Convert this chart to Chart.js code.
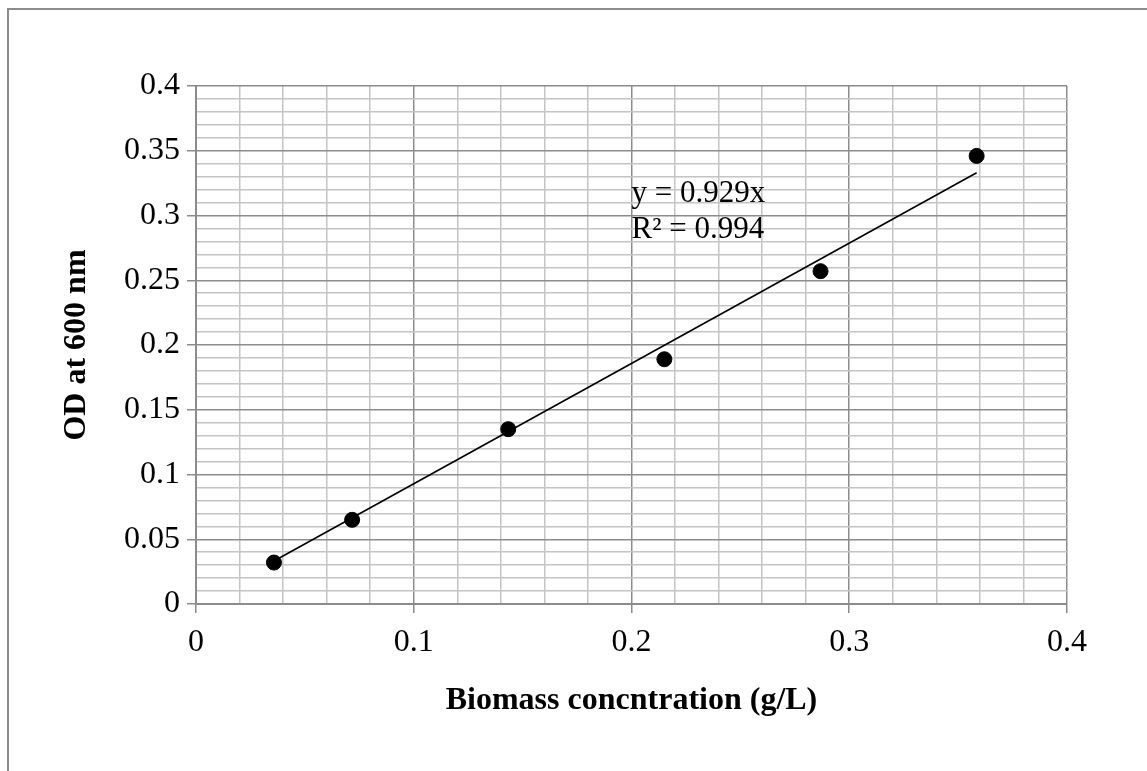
<!DOCTYPE html>
<html>
<head>
<meta charset="utf-8">
<script src="https://cdn.jsdelivr.net/npm/chart.js@4.4.1/dist/chart.umd.min.js"></script>
<style>
  html, body { margin: 0; padding: 0; background: #fff; }
  canvas { display: block; }
</style>
</head>
<body>
<canvas id="odChart" width="1147" height="771"></canvas>
<script>
// biomass (g/L) vs OD600 readings
const biomass = [0.0358, 0.0717, 0.1434, 0.2151, 0.2868, 0.3585];
const odValues = [0.032, 0.065, 0.135, 0.189, 0.257, 0.346];
// trendline through origin, as reported on the chart
const slope = 0.929;
const rSquared = 0.994;
const equationLines = ["y = 0.929x", "R\u00b2 = 0.994"];

const serif = "'Liberation Serif', 'Times New Roman', serif";
const majorGrid = "#8c8c8c";
const minorGrid = "#c4c4c4";

const points = biomass.map((x, i) => ({ x: x, y: odValues[i] }));
const xFirst = biomass[0];
const xLast = biomass[biomass.length - 1];
const trend = [
    { x: xFirst, y: slope * xFirst },
    { x: xLast, y: slope * xLast },
];

const isMajorX = (v) => Math.round(v * 100) % 10 === 0;
const isMajorY = (v) => Math.round(v * 100) % 5 === 0;
const fmt = (v) => String(Number(v.toFixed(2)));

// outer frame like the Excel chart area border
const frame = {
    id: "frame",
    beforeDraw(chart) {
        const c = chart.ctx;
        c.save();
        c.fillStyle = "#fff";
        c.fillRect(0, 0, chart.width, chart.height);
        c.strokeStyle = "#8c8c8c";
        c.lineWidth = 2;
        c.strokeRect(8, 9, chart.width + 20, chart.height + 20);
        c.restore();
    },
};

// trendline label
const equation = {
    id: "equation",
    afterDatasetsDraw(chart) {
        const c = chart.ctx;
        const xs = chart.scales.x, ys = chart.scales.y;
        c.save();
        c.font = "31px " + serif;
        c.fillStyle = "#000";
        c.textBaseline = "alphabetic";
        c.fillText(equationLines[0], xs.getPixelForValue(0.2), ys.getPixelForValue(0.3105));
        c.fillText(equationLines[1], xs.getPixelForValue(0.2), ys.getPixelForValue(0.2826));
        c.restore();
    },
};

const config = {
    type: "scatter",
    data: {
        datasets: [
            {
                label: "OD",
                data: points,
                backgroundColor: "#000",
                borderColor: "#000",
                pointRadius: 7.5,
                pointHoverRadius: 7.5,
            },
            {
                label: "Linear",
                data: trend,
                showLine: true,
                borderColor: "#000",
                borderWidth: 1.6,
                pointRadius: 0,
                fill: false,
            },
        ],
    },
    options: {
        responsive: false,
        animation: false,
        layout: { padding: { left: 0, top: 86, right: 80, bottom: 0 } },
        plugins: {
            legend: { display: false },
            tooltip: { enabled: false },
        },
        scales: {
            x: {
                type: "linear",
                min: 0,
                max: 0.4,
                afterFit(scale) { scale.height = 167; },
                border: { color: majorGrid, width: 2 },
                grid: {
                    color: (ctx) => isMajorX(ctx.tick.value) ? majorGrid : minorGrid,
                    tickColor: (ctx) => isMajorX(ctx.tick.value) ? majorGrid : "rgba(0,0,0,0)",
                    lineWidth: 1.5,
                    tickLength: 9,
                },
                ticks: {
                    stepSize: 0.02,
                    autoSkip: false,
                    maxRotation: 0,
                    padding: 10,
                    color: "#000",
                    font: { family: serif, size: 32 },
                    callback: (v) => isMajorX(v) ? fmt(v) : "",
                },
                title: {
                    display: true,
                    text: "Biomass concntration (g/L)",
                    color: "#000",
                    font: { family: serif, size: 32, weight: "bold" },
                    padding: { top: 0, bottom: 51 },
                },
            },
            y: {
                type: "linear",
                min: 0,
                max: 0.4,
                afterFit(scale) { scale.width = 196; },
                border: { color: majorGrid, width: 2 },
                grid: {
                    color: (ctx) => isMajorY(ctx.tick.value) ? majorGrid : minorGrid,
                    tickColor: (ctx) => isMajorY(ctx.tick.value) ? majorGrid : "rgba(0,0,0,0)",
                    lineWidth: 1.5,
                    tickLength: 9,
                },
                ticks: {
                    stepSize: 0.01,
                    autoSkip: false,
                    padding: 7,
                    color: "#000",
                    font: { family: serif, size: 32 },
                    callback: (v) => isMajorY(v) ? fmt(v) : "",
                },
                title: {
                    display: true,
                    text: "OD at 600 nm",
                    color: "#000",
                    font: { family: serif, size: 32, weight: "bold" },
                    padding: { top: 58, bottom: 0 },
                },
            },
        },
    },
    plugins: [frame, equation],
};

const odCtx = document.getElementById("odChart");
window.odChart = new Chart(odCtx, config);
</script>
</body>
</html>
